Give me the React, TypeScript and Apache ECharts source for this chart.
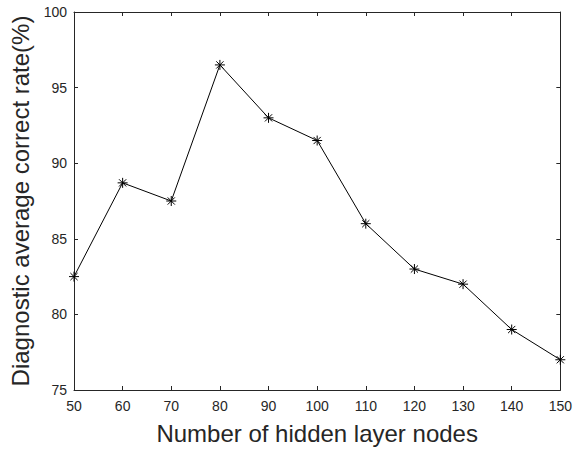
import React, { useEffect, useRef } from "react";
import * as echarts from "echarts";

const nodes = [50, 60, 70, 80, 90, 100, 110, 120, 130, 140, 150];
const rates = [82.5, 88.7, 87.5, 96.5, 93, 91.5, 86, 83, 82, 79, 77];
const xTitle = "Number of hidden layer nodes";
const yTitle = "Diagnostic average correct rate(%)";

const FONT = "'Liberation Sans', Arial, sans-serif";
const AX = "#262626";

export default function App() {
  const ref = useRef<HTMLDivElement>(null);
  useEffect(() => {
    if (!ref.current) return;
    const chart = echarts.init(ref.current, null, { renderer: "svg" });
    const star = "path://M0,-5L0,5M-5,0L5,0M-3.6,-3.6L3.6,3.6M-3.6,3.6L3.6,-3.6";
    const baseX = {
      type: "value",
      min: 50,
      max: 150,
      interval: 10,
      axisLine: { show: true, onZero: false, lineStyle: { color: AX, width: 1 } },
      axisTick: { show: true, inside: true, length: 4, lineStyle: { color: AX } },
      splitLine: { show: false },
    };
    const baseY = {
      type: "value",
      min: 75,
      max: 100,
      interval: 5,
      axisLine: { show: true, onZero: false, lineStyle: { color: AX, width: 1 } },
      axisTick: { show: true, inside: true, length: 4, lineStyle: { color: AX } },
      splitLine: { show: false },
    };
    chart.setOption({
      animation: false,
      backgroundColor: "#fff",
      grid: { left: 74, right: 11, top: 12, bottom: 59, containLabel: false },
      xAxis: [
        {
          ...baseX,
          position: "bottom",
          name: xTitle,
          nameLocation: "middle",
          nameGap: 31,
          nameTextStyle: { fontFamily: FONT, fontSize: 24, color: AX },
          axisLabel: { fontFamily: FONT, fontSize: 14, color: AX, margin: 9 },
        },
        { ...baseX, position: "top", axisLabel: { show: false } },
      ],
      yAxis: [
        {
          ...baseY,
          position: "left",
          name: yTitle,
          nameLocation: "middle",
          nameGap: 37,
          nameTextStyle: { fontFamily: FONT, fontSize: 24, color: AX },
          axisLabel: { fontFamily: FONT, fontSize: 14, color: AX, margin: 7 },
        },
        { ...baseY, position: "right", axisLabel: { show: false } },
      ],
      series: [
        {
          type: "line",
          data: nodes.map((n, i) => [n, rates[i]]),
          xAxisIndex: 0,
          yAxisIndex: 0,
          lineStyle: { color: "#000", width: 1 },
          symbol: star,
          symbolSize: 10,
          showSymbol: true,
          itemStyle: { color: "none", borderColor: "#000", borderWidth: 1 },
        },
      ],
    });
    return () => chart.dispose();
  }, []);
  return <div ref={ref} style={{ width: 575, height: 450, position: "absolute", left: 0, top: 0 }} />;
}
